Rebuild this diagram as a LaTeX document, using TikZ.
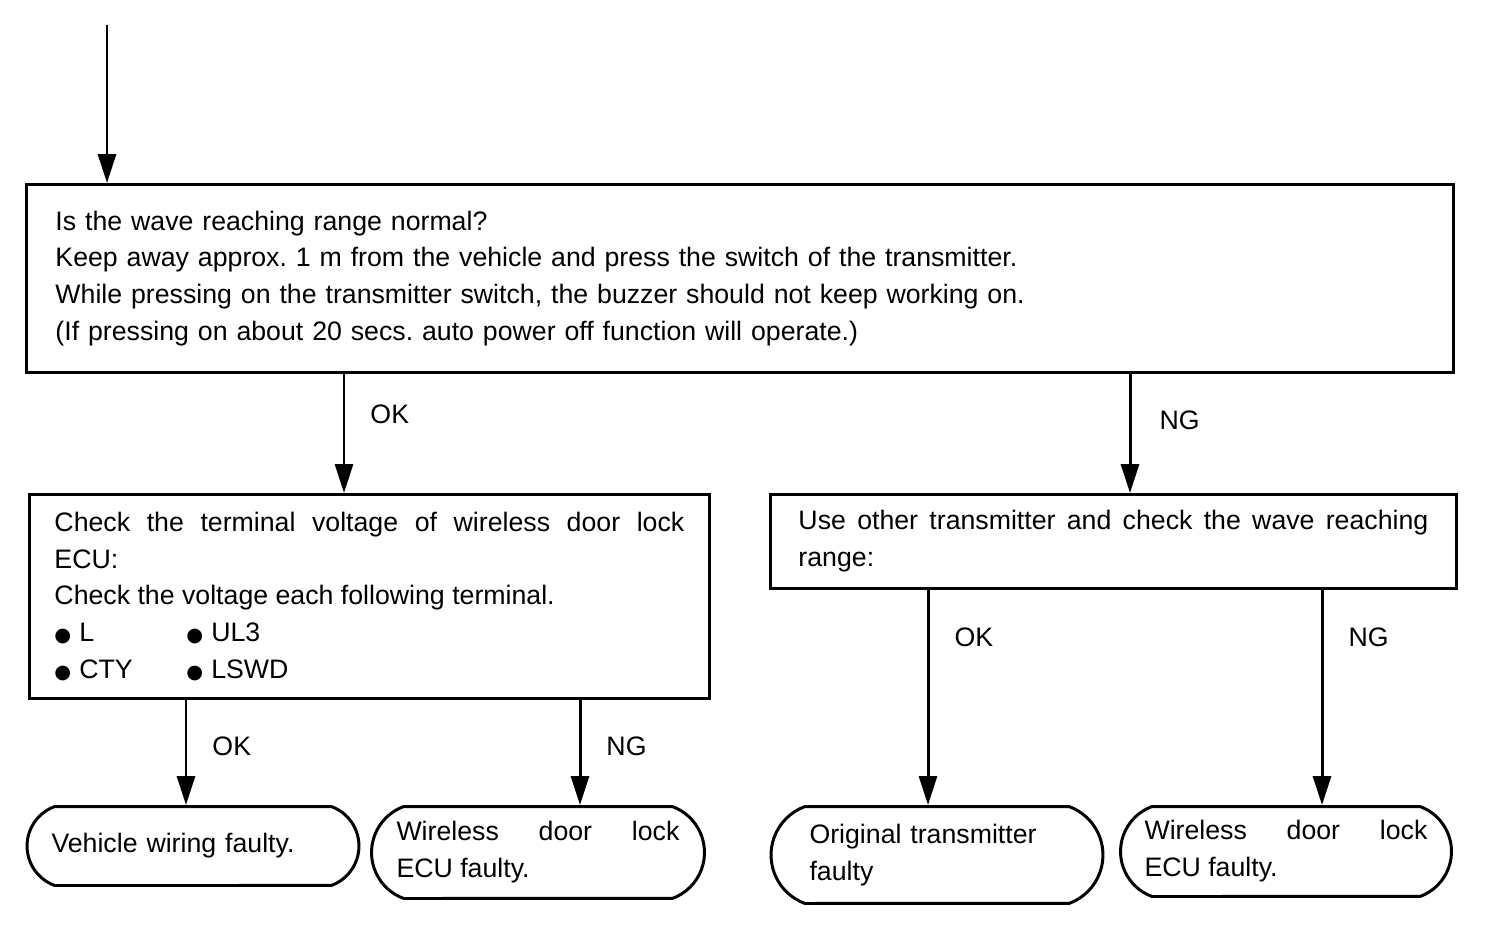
\documentclass[tikz,border=0pt]{standalone}
\usepackage{fontspec}
\setmainfont{Liberation Sans}
\newfontfamily\dejavu{DejaVu Sans}
\usetikzlibrary{arrows.meta,shapes.misc}
\newcommand{\blt}{{\dejavu\fontsize{11}{11}\selectfont ●}\hspace{0.16cm}}
\frenchspacing
\begin{document}
\begin{tikzpicture}[x=0.02cm,y=-0.02cm,line width=1.7pt,font=\fontsize{15.2}{21}\selectfont]
\tikzstyle{box}=[draw,rectangle,anchor=north west,inner ysep=0pt]
\tikzstyle{term}=[draw,rounded rectangle,rounded rectangle arc length=140,anchor=north,inner xsep=0pt,inner ysep=0pt,align=left,text width=5.66cm]
\tikzstyle{flow}=[-{Triangle[length=0.58cm,width=0.36cm]}]
\tikzstyle{lab}=[anchor=west,inner sep=0pt,xshift=0.5cm]
\useasboundingbox (0,0) rectangle (1504,948);
\coordinate (start) at (107,25);
\node[box,minimum width=28.54cm,minimum height=3.76cm,inner xsep=0.58cm,text width=27.38cm,align=left] (wave) at (25,183)
 {Is the wave reaching range normal?\\
  Keep away approx. 1 m from the vehicle and press the switch of the transmitter.\\
  While pressing on the transmitter switch, the buzzer should not keep working on.\\
  (If pressing on about 20 secs. auto power off function will operate.)\\[-0.25cm]};
\node[box,minimum width=13.6cm,minimum height=4.08cm,inner xsep=0.5cm,text width=12.6cm,align=justify] (ecu) at (28,493)
 {Check the terminal voltage of wireless door lock\linebreak ECU:\\
  Check the voltage each following terminal.\\
  \makebox[2.64cm][l]{\blt L}\blt UL3\\
  \makebox[2.64cm][l]{\blt CTY}\blt LSWD};
\node[box,minimum width=13.72cm,minimum height=1.88cm,inner xsep=0.56cm,text width=12.6cm,align=justify] (other) at (769,493)
 {Use other transmitter and check the wave reaching\linebreak range:};
\node[term,minimum width=6.64cm,minimum height=1.58cm] (wiring) at (193,805) {Vehicle wiring faulty.};
\node[term,minimum width=6.66cm,minimum height=1.84cm,align=justify] (ecuA) at (538,805) {Wireless door lock\linebreak ECU faulty.};
\node[term,minimum width=6.64cm,minimum height=1.94cm,text width=5.1cm] (orig) at (937,805) {Original transmitter\\faulty};
\node[term,minimum width=6.62cm,minimum height=1.8cm,align=justify] (ecuB) at (1286,805) {Wireless door lock\linebreak ECU faulty.};
\coordinate (x1) at (344,0);
\coordinate (x2) at (1130,0);
\coordinate (x3) at (186,0);
\coordinate (x4) at (580,0);
\coordinate (x5) at (928,0);
\coordinate (x6) at (1322,0);
\draw[flow] (start) -- (start |- wave.north);
\draw[flow] (wave.south -| x1) -- node[lab,pos=.34]{OK} (ecu.north -| x1);
\draw[flow] (wave.south -| x2) -- node[lab,pos=.39,xshift=0.06cm]{NG} (other.north -| x2);
\draw[flow] (ecu.south -| x3) -- node[lab,pos=.44]{OK} (wiring.north -| x3);
\draw[flow] (ecu.south -| x4) -- node[lab,pos=.44]{NG} (ecuA.north -| x4);
\draw[flow] (other.south -| x5) -- node[lab,pos=.22]{OK} (orig.north -| x5);
\draw[flow] (other.south -| x6) -- node[lab,pos=.22]{NG} (ecuB.north -| x6);
\end{tikzpicture}
\end{document}
